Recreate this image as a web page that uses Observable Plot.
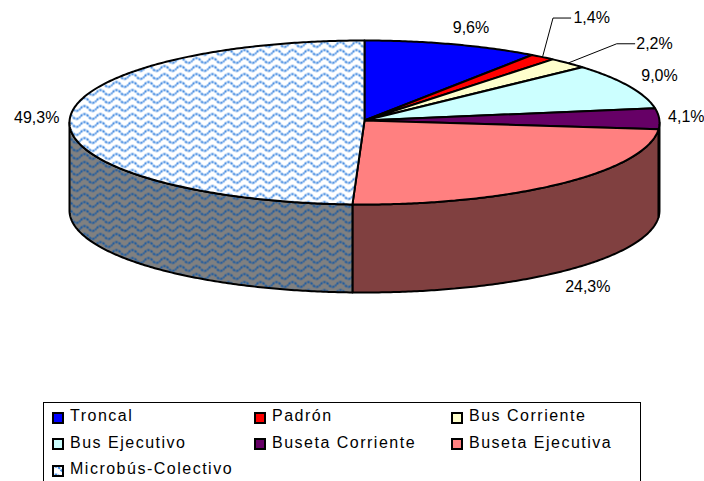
<!DOCTYPE html>
<html>
<head>
<meta charset="utf-8">
<script src="https://cdn.jsdelivr.net/npm/d3@7"></script>
<script src="https://cdn.jsdelivr.net/npm/@observablehq/plot@0.6"></script>
<style>
html,body{margin:0;padding:0;background:#fff;width:704px;height:481px;overflow:hidden;font-family:"Liberation Sans",Arial,sans-serif}
svg{display:block}
#legend{position:absolute;left:43px;top:402px;width:598px;height:90px;border:1.5px solid #000;box-sizing:border-box;background:#fff}
.it{position:absolute;font-size:16px;letter-spacing:1.5px;line-height:18px;white-space:nowrap;color:#000}
.it svg{position:absolute;left:-18px;top:4.5px}
</style>
</head>
<body>
<div id="chart"></div>
<div id="legend"></div>
<script>
const categories = ["Troncal","Padrón","Bus Corriente","Bus Ejecutivo","Buseta Corriente","Buseta Ejecutiva","Microbús-Colectivo"];
const shares = [9.6,1.4,2.2,9.0,4.1,24.3,49.3];
const labels = ["9,6%","1,4%","2,2%","9,0%","4,1%","24,3%","49,3%"];
const topColors = ["#0000ff","#ff0000","#ffffcc","#ccffff","#660066","#ff8080","url(#waveTop)"];
const sideColors = ["#000080","#800000","#808066","#668080","#330033","#804040","url(#waveSide)"];
const labelX = [0.361,0.770,0.983,1.000,1.091,0.757,-1.111];
const labelY = [1.159,1.280,0.963,0.573,0.073,-2.000,0.061];
const leaderElbows = {1:[[0.639,1.274],[0.699,1.274]],2:[[0.855,0.960],[0.916,0.960]]};

const depth = 88/82, hubY = 2/82;
const total = d3.sum(shares);
const cum = d3.cumsum(shares);
const startA = i => (i ? cum[i-1] : 0)/total*2*Math.PI;
const endA = i => cum[i]/total*2*Math.PI;
const rim = (a,drop=0) => ({x:Math.sin(a),y:Math.cos(a)-drop});
const arc = (a0,a1,drop=0) => {
  const n = Math.max(2,Math.ceil((a1-a0)/0.01));
  return d3.range(n+1).map(k => rim(a0+(a1-a0)*k/n,drop));
};
const hub = {x:0,y:hubY};

const defs = () => {
  const s = d3.create("svg:defs");
  const wave = (id,bg,ink) => {
    const p = s.append("svg:pattern").attr("id",id).attr("patternUnits","userSpaceOnUse").attr("width",16).attr("height",8);
    p.append("svg:rect").attr("width",16).attr("height",8).attr("fill",bg);
    p.append("svg:path").attr("d","M0 4 Q4 -1 8 4 T16 4").attr("fill","none").attr("stroke",ink).attr("stroke-width",2).attr("stroke-dasharray","2.6 0.9");
  };
  wave("waveTop","#ffffff","#3f88e0");
  wave("waveSide","#808080","#1c5aa0");
  return s.node();
};

const walls = [], faces = [];
shares.forEach((v,i) => {
  const a0 = Math.max(startA(i),Math.PI/2), a1 = Math.min(endA(i),Math.PI*1.5);
  if (a1 > a0) {
    walls.push(Plot.line([...arc(a0,a1),...arc(a0,a1,depth).reverse(),rim(a0)],
      {x:"x",y:"y",fill:sideColors[i],stroke:"#000",strokeWidth:2,curve:"linear"}));
  }
  faces.push(Plot.line([hub,...arc(startA(i),endA(i)),hub],
    {x:"x",y:"y",fill:topColors[i],stroke:"#000",strokeWidth:2,curve:"linear"}));
});

const leaders = Object.entries(leaderElbows).map(([i,pts]) => {
  const a = (startA(+i)+endA(+i))/2;
  return Plot.line([rim(a),...pts.map(([x,y])=>({x,y}))],{x:"x",y:"y",stroke:"#000",strokeWidth:1});
});

const plot = Plot.plot({
  width:704,height:402,margin:0,
  x:{domain:[-1,1],range:[69,659],axis:null},
  y:{domain:[-1,1],range:[204,40],axis:null},
  marks:[
    defs,
    ...walls,
    ...faces,
    ...leaders,
    Plot.text(labels,{x:(d,i)=>labelX[i],y:(d,i)=>labelY[i],text:d=>d,fontSize:16,fontFamily:"Liberation Sans",fill:"#000",style:{letterSpacing:"0.4px"}})
  ]
});
document.getElementById("chart").append(plot);

const colX = [26,228,425], rowY = [4,30.5,57];
const legend = document.getElementById("legend");
categories.forEach((c,i) => {
  const el = document.createElement("div");
  el.className = "it";
  el.style.left = colX[i%3]+"px";
  el.style.top = rowY[Math.floor(i/3)]+"px";
  const fill = i===6 ? "url(#waveTop)" : topColors[i];
  el.innerHTML = `<svg width="12" height="12"><rect x="1" y="1" width="10" height="10" fill="${fill}" stroke="#000" stroke-width="2"/></svg>`;
  el.append(c);
  legend.append(el);
});
</script>
</body>
</html>
